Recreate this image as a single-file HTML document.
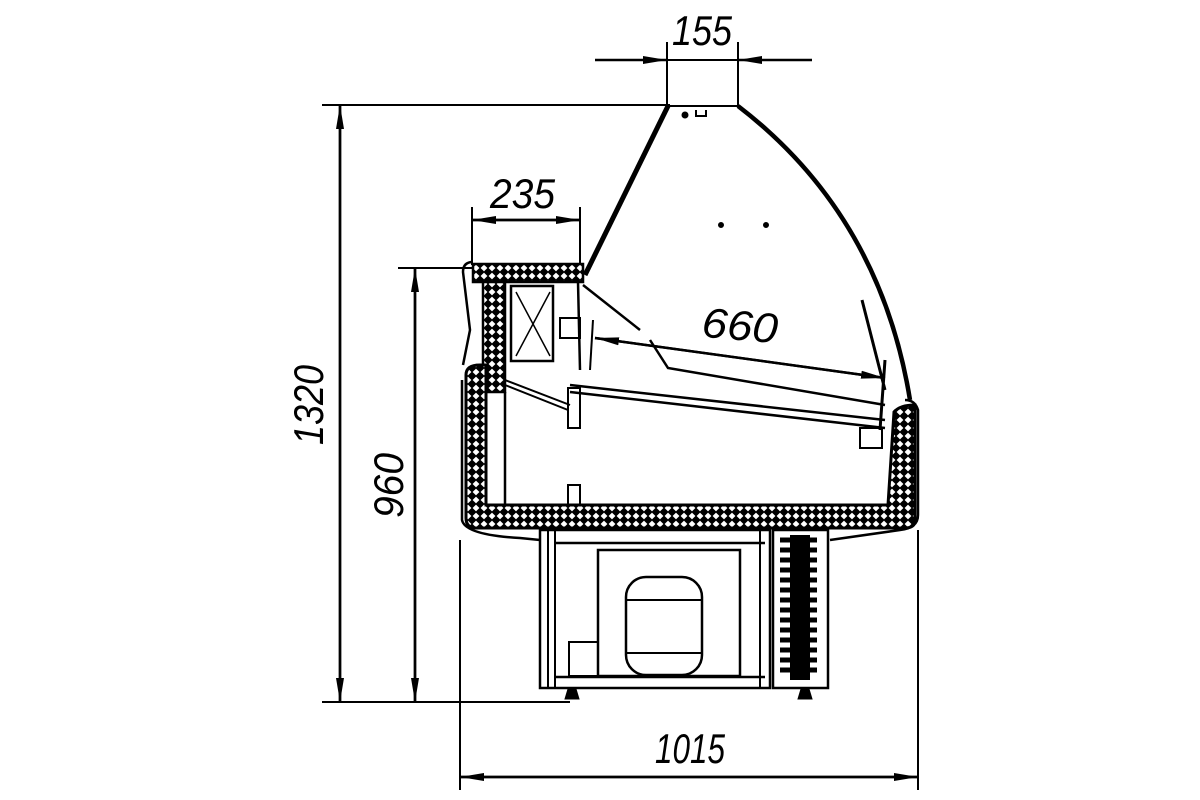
<!DOCTYPE html>
<html><head><meta charset="utf-8"><style>html,body{margin:0;padding:0;background:#fff}svg{display:block}</style></head>
<body>
<svg width="1200" height="800" viewBox="0 0 1200 800" xmlns="http://www.w3.org/2000/svg">
<defs>
<pattern id="hx" width="8" height="8" patternUnits="userSpaceOnUse">
<rect width="8" height="8" fill="#000"/>
<path d="M4 0.6 L7.4 4 L4 7.4 L0.6 4Z" fill="#fff"/>
</pattern>
<marker id="ar" viewBox="0 0 24 10" refX="24" refY="5" markerWidth="24" markerHeight="10" markerUnits="userSpaceOnUse" orient="auto"><path d="M0 1 L24 5 L0 9Z" fill="#000"/></marker>
</defs>
<g fill="none" stroke="#000" font-family="Liberation Sans, sans-serif">
<line x1="322" y1="105" x2="670" y2="105" stroke-width="2"/>
<line x1="322" y1="702" x2="570" y2="702" stroke-width="2"/>
<line x1="340" y1="702" x2="340" y2="105" stroke-width="2.5" marker-end="url(#ar)"/>
<line x1="340" y1="105" x2="340" y2="702" stroke-width="2.5" marker-end="url(#ar)"/>
<line x1="398" y1="268" x2="475" y2="268" stroke-width="2"/>
<line x1="415" y1="702" x2="415" y2="268" stroke-width="2.5" marker-end="url(#ar)"/>
<line x1="415" y1="268" x2="415" y2="702" stroke-width="2.5" marker-end="url(#ar)"/>
<line x1="460" y1="540" x2="460" y2="790" stroke-width="2"/>
<line x1="918" y1="530" x2="918" y2="790" stroke-width="2"/>
<line x1="460" y1="777" x2="918" y2="777" stroke-width="2.5" marker-end="url(#ar)"/>
<line x1="918" y1="777" x2="460" y2="777" stroke-width="2.5" marker-end="url(#ar)"/>
<line x1="667" y1="42" x2="667" y2="106" stroke-width="2"/>
<line x1="738" y1="42" x2="738" y2="106" stroke-width="2"/>
<line x1="595" y1="60" x2="667" y2="60" stroke-width="2.5" marker-end="url(#ar)"/>
<line x1="812" y1="60" x2="738" y2="60" stroke-width="2.5" marker-end="url(#ar)"/>
<line x1="667" y1="60" x2="738" y2="60" stroke-width="2"/>
<line x1="472" y1="207" x2="472" y2="265" stroke-width="2"/>
<line x1="580" y1="207" x2="580" y2="265" stroke-width="2"/>
<line x1="472" y1="220" x2="580" y2="220" stroke-width="2.5" marker-end="url(#ar)"/>
<line x1="580" y1="220" x2="472" y2="220" stroke-width="2.5" marker-end="url(#ar)"/>
<line x1="595" y1="338" x2="885" y2="378" stroke-width="2.5" marker-end="url(#ar)"/>
<line x1="885" y1="378" x2="595" y2="338" stroke-width="2.5" marker-end="url(#ar)"/>

<path d="M668 106 L585 275" stroke-width="5"/>
<path d="M738 106 Q880 215 910 400" stroke-width="4.5"/>
<line x1="668" y1="106" x2="738" y2="106" stroke-width="2"/>
<circle cx="685" cy="115" r="3" fill="#000"/>
<path d="M696 110 v6 h10 v-6" stroke-width="2"/>
<circle cx="721" cy="225" r="2.5" fill="#000"/>
<circle cx="766" cy="225" r="2.5" fill="#000"/>

<rect x="473" y="264" width="110" height="18" fill="url(#hx)" stroke-width="2.5"/>
<path d="M473 262 Q463 262 463 272 L470 330 L463 365" stroke-width="2.5"/>
<rect x="483" y="282" width="22" height="110" fill="url(#hx)" stroke-width="2.5"/>
<rect x="511" y="286" width="42" height="75" stroke-width="2.5"/>
<path d="M516 292 L550 356 M550 292 L516 356" stroke-width="1.5"/>
<rect x="560" y="318" width="20" height="20" stroke-width="2"/>
<path d="M578 282 L580 370 M583 285 L640 330 M650 340 L668 368 L885 405" stroke-width="2.5"/>
<path d="M593 320 L590 370" stroke-width="2"/>
<path d="M862 300 L885 390 M885 360 L880 430" stroke-width="3"/>
<path d="M505 380 L570 405 M505 385 L568 410" stroke-width="2"/>
<path d="M570 385 L885 420 M570 392 L885 428" stroke-width="2.5"/>
<rect x="568" y="388" width="12" height="40" stroke-width="2"/>
<rect x="860" y="428" width="22" height="20" stroke-width="2"/>
<rect x="568" y="485" width="12" height="20" stroke-width="2"/>

<path d="M466 375 Q466 365 480 365 L486 365 L486 505 L888 505 L894 412 Q900 405 915 405 L915 520 Q915 528 905 528 L476 528 Q466 528 466 518 Z" fill="url(#hx)" stroke-width="3"/>
<line x1="505" y1="392" x2="505" y2="505" stroke-width="2.5"/>
<path d="M462 380 L462 520 Q465 535 520 538 L540 540 M830 540 L900 530 Q918 528 918 515 L918 410 Q915 400 905 400" stroke-width="2.5"/>

<rect x="540" y="530" width="230" height="158" stroke-width="2.5"/>
<line x1="548" y1="530" x2="548" y2="688" stroke-width="2"/>
<line x1="555" y1="530" x2="555" y2="688" stroke-width="2"/>
<line x1="555" y1="543" x2="765" y2="543" stroke-width="2.5"/>
<line x1="555" y1="677" x2="765" y2="677" stroke-width="2.5"/>
<line x1="760" y1="530" x2="760" y2="688" stroke-width="2"/>
<rect x="598" y="550" width="142" height="126" stroke-width="2.5"/>
<rect x="569" y="642" width="29" height="34" stroke-width="2"/>
<rect x="626" y="577" width="76" height="98" rx="20" stroke-width="2.5"/>
<line x1="626" y1="600" x2="702" y2="600" stroke-width="2"/>
<line x1="626" y1="653" x2="702" y2="653" stroke-width="2"/>
<rect x="773" y="530" width="55" height="158" stroke-width="2.5"/>
<rect x="790" y="535" width="20" height="145" fill="#000" stroke="none"/>
<path d="M780 540 h37 M780 550 h37 M780 560 h37 M780 570 h37 M780 580 h37 M780 590 h37 M780 600 h37 M780 610 h37 M780 620 h37 M780 630 h37 M780 640 h37 M780 650 h37 M780 660 h37 M780 670 h37" stroke-width="5"/>
<path d="M565 699 l3 -10 h8 l3 10Z" fill="#000" stroke-width="1"/>
<path d="M798 699 l3 -10 h8 l3 10Z" fill="#000" stroke-width="1"/>
</g>
<g font-family="Liberation Sans, sans-serif" font-style="italic" font-size="42" fill="#000">
<text x="672" y="45" textLength="60" lengthAdjust="spacingAndGlyphs">155</text>
<text x="490" y="208" textLength="65" lengthAdjust="spacingAndGlyphs">235</text>
<text x="702" y="340" textLength="76" lengthAdjust="spacingAndGlyphs" transform="rotate(5 740 325)">660</text>
<text x="655" y="763" textLength="70" lengthAdjust="spacingAndGlyphs">1015</text>
<text transform="translate(323 445) rotate(-90)" textLength="80" lengthAdjust="spacingAndGlyphs">1320</text>
<text transform="translate(403 518) rotate(-90)" textLength="65" lengthAdjust="spacingAndGlyphs">960</text>
</g>
</svg>
</body></html>
